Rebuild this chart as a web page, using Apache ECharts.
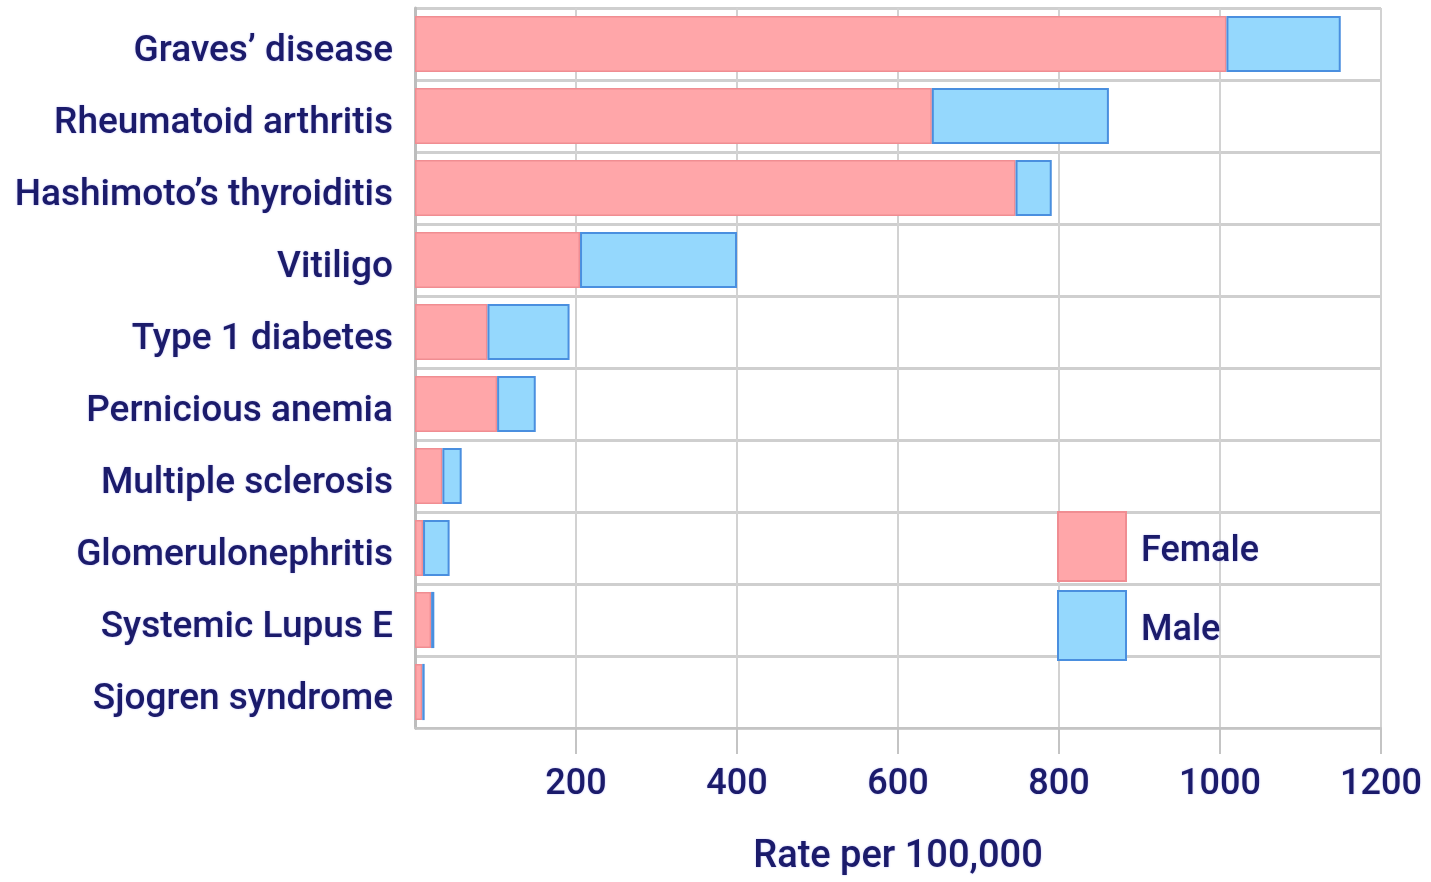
<!DOCTYPE html>
<html>
<head>
<meta charset="utf-8">
<title>Autoimmune disease incidence by sex</title>
<script src="https://cdn.jsdelivr.net/npm/echarts@6/dist/echarts.min.js"></script>
<style>
  html, body { margin: 0; padding: 0; background: #ffffff; }
  #chart { width: 1431px; height: 882px; }
</style>
</head>
<body>
<div id="chart"></div>
<script>
// Diseases, top to bottom
const categories = [
  'Graves\u2019 disease',
  'Rheumatoid arthritis',
  'Hashimoto\u2019s thyroiditis',
  'Vitiligo',
  'Type 1 diabetes',
  'Pernicious anemia',
  'Multiple sclerosis',
  'Glomerulonephritis',
  'Systemic Lupus E',
  'Sjogren syndrome'
];

// Rate per 100,000, split by sex (male stacked after female)
const femaleRates = [1008, 642, 746, 205, 90, 102, 34, 10, 20, 9];
const maleRates   = [142, 220, 45, 195, 102, 48, 24, 33, 4, 3];

// Labelled ticks on the rate axis
const rateTicks = [200, 400, 600, 800, 1000, 1200];

const ink = '#1b1b6b';
const fontFamily = 'Roboto, "Noto Sans", sans-serif';
const glow = { textShadowColor: 'rgba(70,70,230,0.35)', textShadowBlur: 2 };

const chart = echarts.init(document.getElementById('chart'));

chart.setOption({
  backgroundColor: '#ffffff',
  animation: false,
  grid: { left: 415, right: 50, top: 8, bottom: 154, containLabel: false },
  legend: {
    orient: 'vertical',
    left: 1057,
    top: 511,
    padding: 0,
    itemWidth: 68,
    itemHeight: 69,
    itemGap: 8,
    icon: 'rect',
    data: ['Female', 'Male'],
    formatter: function (name) { return '{t|' + name + '}'; },
    textStyle: Object.assign({
      color: ink, fontFamily: fontFamily, fontSize: 36, fontWeight: 500,
      rich: {
        t: Object.assign({
          color: ink, fontFamily: fontFamily, fontSize: 36, fontWeight: 500,
          padding: [10, 0, 0, 10]
        }, glow)
      }
    }, glow)
  },
  xAxis: {
    type: 'value',
    min: 0,
    max: 1200,
    interval: 200,
    name: 'Rate per 100,000',
    nameLocation: 'middle',
    nameGap: 110,
    nameTextStyle: Object.assign({
      color: ink, fontFamily: fontFamily, fontSize: 38, fontWeight: 500
    }, glow),
    axisLine: { show: true, lineStyle: { color: '#c4c4c4', width: 2 } },
    axisTick: {
      show: true, length: 26, customValues: rateTicks,
      lineStyle: { color: '#c4c4c4', width: 2 }
    },
    axisLabel: Object.assign({
      customValues: rateTicks,
      formatter: function (v) { return String(v); },
      margin: 39,
      color: ink, fontFamily: fontFamily, fontSize: 36, fontWeight: 500
    }, glow),
    splitLine: { show: true, lineStyle: { color: '#d2d2d2', width: 2 } }
  },
  yAxis: {
    type: 'category',
    inverse: true,
    data: categories,
    axisLine: { show: true, lineStyle: { color: '#bdbdbd', width: 3 } },
    axisTick: { show: false },
    axisLabel: Object.assign({
      margin: 22,
      verticalAlign: 'top',
      lineHeight: 16,
      color: ink, fontFamily: fontFamily, fontSize: 37, fontWeight: 500
    }, glow),
    splitLine: { show: true, lineStyle: { color: '#cfcfcf', width: 3 } }
  },
  series: [
    {
      name: 'Female',
      type: 'bar',
      stack: 'rate',
      data: femaleRates,
      barWidth: '78%',
      itemStyle: { color: '#ffa6a9', borderColor: '#f08d92', borderWidth: 1.5 }
    },
    {
      name: 'Male',
      type: 'bar',
      stack: 'rate',
      data: maleRates,
      barWidth: '78%',
      itemStyle: { color: '#95d8fd', borderColor: '#4a8fdf', borderWidth: 2 }
    }
  ]
});
</script>
</body>
</html>
